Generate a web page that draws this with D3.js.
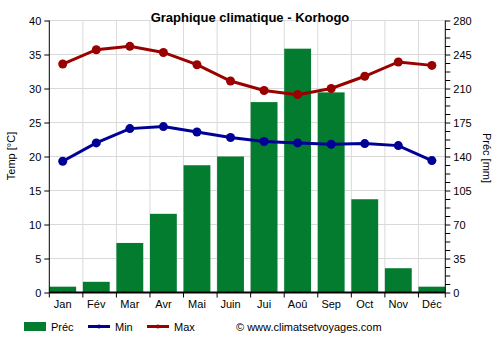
<!DOCTYPE html>
<html><head><meta charset="utf-8">
<script src="https://cdn.jsdelivr.net/npm/d3@7"></script>
<style>body{margin:0;background:#fff}svg{display:block;font-family:"Liberation Sans",Arial,sans-serif}</style>
</head><body><svg id="c" width="500" height="350"></svg>
<script>
const months = ["Jan","Fév","Mar","Avr","Mai","Juin","Jui","Aoû","Sep","Oct","Nov","Déc"];
const precip = [6, 11, 51, 81, 131, 140, 196, 251, 206, 96, 25, 6];
const tMin = [19.3, 22.0, 24.1, 24.4, 23.6, 22.8, 22.2, 22.0, 21.8, 21.9, 21.6, 19.4];
const tMax = [33.6, 35.7, 36.2, 35.3, 33.5, 31.1, 29.7, 29.1, 30.0, 31.8, 33.9, 33.4];
const tempTicks = [0,5,10,15,20,25,30,35,40];
const precTicks = [0,35,70,105,140,175,210,245,280];

const svg = d3.select("#c");
const L = 49.3, R = 445.3, T = 20.5, B = 292.5;
const x = d3.scaleBand().domain(months).range([L, R]).paddingInner(0.2).paddingOuter(0);
const yT = d3.scaleLinear().domain([0,40]).range([B, T]);
const yP = d3.scaleLinear().domain([0,280]).range([B, T]);
const cx = m => x(m) + x.bandwidth()/2;

// grid
const g = svg.append("g");
g.selectAll("line.h").data(tempTicks.slice(1)).join("line")
  .attr("x1", L).attr("x2", R).attr("y1", d=>yT(d)).attr("y2", d=>yT(d))
  .attr("stroke", "#d9d9d9").attr("stroke-width", 1);
g.selectAll("line.v").data(months.slice(1)).join("line")
  .attr("x1", d=>x(d)).attr("x2", d=>x(d)).attr("y1", T).attr("y2", B)
  .attr("stroke", "#d9d9d9").attr("stroke-width", 1);

// bars
svg.append("g").selectAll("rect").data(precip).join("rect")
  .attr("x", (d,i)=>x(months[i])).attr("width", x.bandwidth())
  .attr("y", d=>yP(d)).attr("height", d=>B - yP(d))
  .attr("fill", "#037c30");

// axes
const axL = svg.append("g").attr("transform", `translate(${L},0)`)
  .call(d3.axisLeft(yT).tickValues(tempTicks).tickSize(5).tickPadding(3));
const axR = svg.append("g").attr("transform", `translate(${R},0)`)
  .call(d3.axisRight(yP).tickValues(d3.range(0, 281, 8.75)).tickSize(5).tickPadding(3)
    .tickFormat(d => precTicks.includes(d) ? d : ""));
const axB = svg.append("g").attr("transform", `translate(0,${B})`)
  .call(d3.axisBottom(x).tickSize(0).tickPadding(8));
// bottom ticks at band starts
svg.append("g").selectAll("line").data(months.concat(["end"])).join("line")
  .attr("x1", d=> d==="end" ? R : x(d)).attr("x2", d=> d==="end" ? R : x(d))
  .attr("y1", B).attr("y2", B+5).attr("stroke", "#000");
axB.select(".domain").attr("d", `M${L},0H${R}`).attr("stroke-width", 2);
[axL, axR, axB].forEach(a => {
  a.selectAll("text").attr("font-size", 11).attr("fill", "#000").attr("font-family", "Liberation Sans, Arial, sans-serif");
  a.selectAll("line").attr("stroke", "#000");
  a.select(".domain").attr("stroke", "#000");
});
axL.select(".domain").attr("d", `M0,${T}V${B}`);
axR.select(".domain").attr("d", `M0,${T}V${B}`);

// lines
const lineGen = arr => d3.line().x((d,i)=>cx(months[i])).y(d=>yT(d))(arr);
[[tMin, "#000096"], [tMax, "#9b0000"]].forEach(([arr, col]) => {
  svg.append("path").attr("d", lineGen(arr)).attr("fill", "none")
    .attr("stroke", col).attr("stroke-width", 3);
  svg.append("g").selectAll("circle").data(arr).join("circle")
    .attr("cx", (d,i)=>cx(months[i])).attr("cy", d=>yT(d)).attr("r", 4.5).attr("fill", col);
});

// titles
svg.append("text").attr("x", 250).attr("y", 22).attr("text-anchor", "middle")
  .attr("font-size", 13).attr("font-weight", "bold").text("Graphique climatique - Korhogo");
svg.append("text").attr("transform", "translate(15,156) rotate(-90)").attr("text-anchor", "middle")
  .attr("font-size", 11).text("Temp [°C]");
svg.append("text").attr("transform", "translate(483,158) rotate(90)").attr("text-anchor", "middle")
  .attr("font-size", 11).text("Préc [mm]");

// legend
const lg = svg.append("g").attr("font-size", 11);
lg.append("rect").attr("x", 24).attr("y", 322).attr("width", 22).attr("height", 9).attr("fill", "#037c30");
lg.append("text").attr("x", 51).attr("y", 331).text("Préc");
[[88, "#000096", "Min"], [147, "#9b0000", "Max"]].forEach(([x0, col, t]) => {
  lg.append("line").attr("x1", x0).attr("x2", x0+22).attr("y1", 326.5).attr("y2", 326.5)
    .attr("stroke", col).attr("stroke-width", 3);
  lg.append("circle").attr("cx", x0+11).attr("cy", 326.5).attr("r", 2).attr("fill", col);
  lg.append("text").attr("x", x0+27).attr("y", 331).text(t);
});
lg.append("text").attr("x", 236).attr("y", 331).text("© www.climatsetvoyages.com");
</script></body></html>
